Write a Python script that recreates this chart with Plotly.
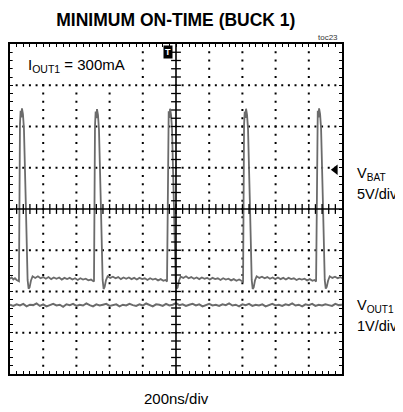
import plotly.graph_objects as go

# scope screen: 10 x 8 divisions, values in divisions
vbat_pts = [
    (0.00, -1.69), (0.05, -1.66), (0.10, -1.71), (0.15, -1.68), (0.20, -1.72), (0.24, -1.73),
    (0.27, -1.75), (0.30, 2.05), (0.32, 2.38), (0.34, 2.22), (0.36, 2.44), (0.39, 2.30),
    (0.42, 1.95), (0.48, 0.00), (0.53, -1.72), (0.56, -1.93), (0.59, -1.90), (0.63, -1.74),
    (0.68, -1.63), (0.76, -1.67), (0.84, -1.63), (0.92, -1.68), (1.00, -1.65), (1.08, -1.69),
    (1.16, -1.65), (1.24, -1.70), (1.32, -1.66), (1.40, -1.69), (1.48, -1.66), (1.56, -1.71),
    (1.64, -1.67), (1.72, -1.70), (1.80, -1.67), (1.88, -1.71), (1.96, -1.68), (2.04, -1.72),
    (2.12, -1.68), (2.20, -1.71), (2.28, -1.69), (2.36, -1.73), (2.44, -1.71), (2.49, -1.74),
    (2.53, -1.76), (2.56, 2.02), (2.58, 2.36), (2.60, 2.20), (2.62, 2.42), (2.65, 2.28),
    (2.68, 1.92), (2.74, 0.00), (2.79, -1.72), (2.82, -1.94), (2.85, -1.89), (2.89, -1.73),
    (2.94, -1.63), (3.02, -1.67), (3.10, -1.64), (3.18, -1.68), (3.26, -1.65), (3.34, -1.70),
    (3.42, -1.66), (3.50, -1.69), (3.58, -1.66), (3.66, -1.70), (3.74, -1.67), (3.82, -1.71),
    (3.90, -1.67), (3.98, -1.70), (4.06, -1.68), (4.14, -1.72), (4.22, -1.68), (4.30, -1.71),
    (4.38, -1.69), (4.46, -1.73), (4.54, -1.70), (4.62, -1.74), (4.68, -1.72),
    (4.73, -1.76), (4.76, 2.04), (4.78, 2.37), (4.80, 2.21), (4.82, 2.43), (4.85, 2.29),
    (4.88, 1.94), (4.94, 0.00), (4.99, -1.71), (5.02, -1.93), (5.05, -1.90), (5.09, -1.74),
    (5.14, -1.64), (5.22, -1.67), (5.30, -1.63), (5.38, -1.68), (5.46, -1.65), (5.54, -1.69),
    (5.62, -1.66), (5.70, -1.70), (5.78, -1.66), (5.86, -1.69), (5.94, -1.67), (6.02, -1.71),
    (6.10, -1.67), (6.18, -1.70), (6.26, -1.68), (6.34, -1.72), (6.42, -1.68), (6.50, -1.71),
    (6.58, -1.69), (6.66, -1.73), (6.74, -1.70), (6.82, -1.74), (6.90, -1.71), (6.97, -1.74),
    (7.02, -1.76), (7.05, 2.03), (7.07, 2.36), (7.09, 2.21), (7.11, 2.43), (7.14, 2.28),
    (7.17, 1.93), (7.23, 0.00), (7.28, -1.72), (7.31, -1.94), (7.34, -1.90), (7.38, -1.73),
    (7.43, -1.63), (7.51, -1.67), (7.59, -1.64), (7.67, -1.68), (7.75, -1.65), (7.83, -1.69),
    (7.91, -1.66), (7.99, -1.70), (8.07, -1.66), (8.15, -1.70), (8.23, -1.67), (8.31, -1.71),
    (8.39, -1.67), (8.47, -1.70), (8.55, -1.68), (8.63, -1.72), (8.71, -1.69), (8.79, -1.71),
    (8.87, -1.69), (8.95, -1.73), (9.03, -1.70), (9.11, -1.74), (9.17, -1.72),
    (9.22, -1.76), (9.25, 2.04), (9.27, 2.38), (9.29, 2.22), (9.31, 2.44), (9.34, 2.30),
    (9.37, 1.95), (9.43, 0.00), (9.48, -1.72), (9.51, -1.93), (9.54, -1.89), (9.58, -1.74),
    (9.63, -1.63), (9.71, -1.67), (9.79, -1.64), (9.87, -1.68), (9.95, -1.65), (10.00, -1.68),
]

# VOUT1, sampled every 0.1 div
vout_dt = 0.1
vout_v = [
    -2.32, -2.35, -2.31, -2.34, -2.30, -2.36, -2.32, -2.33, -2.29, -2.35,
    -2.31, -2.36, -2.33, -2.30, -2.34, -2.32, -2.37, -2.31, -2.33, -2.30,
    -2.35, -2.32, -2.34, -2.29, -2.33, -2.36, -2.31, -2.34, -2.32, -2.30,
    -2.35, -2.33, -2.31, -2.36, -2.32, -2.34, -2.30, -2.33, -2.35, -2.31,
    -2.34, -2.29, -2.33, -2.36, -2.31, -2.32, -2.35, -2.30, -2.34, -2.32,
    -2.28, -2.33, -2.31, -2.35, -2.32, -2.30, -2.34, -2.31, -2.36, -2.33,
    -2.30, -2.34, -2.32, -2.35, -2.31, -2.33, -2.29, -2.34, -2.32, -2.36,
    -2.31, -2.33, -2.30, -2.35, -2.32, -2.34, -2.31, -2.36, -2.33, -2.30,
    -2.34, -2.32, -2.35, -2.31, -2.33, -2.29, -2.34, -2.32, -2.36, -2.31,
    -2.33, -2.30, -2.35, -2.32, -2.34, -2.31, -2.33, -2.35, -2.30, -2.33, -2.32,
]
vout_t = [i * vout_dt for i in range(len(vout_v))]

vbat_gnd = 0.95      # channel ground marker (div)
trig_pos = 4.75      # trigger marker (div)

FONT = "Liberation Sans, Arial, sans-serif"
TRACE = "#6b6b6b"

fig = go.Figure()

# dotted graticule
gx, gy = [], []
for i in range(1, 10):
    if i == 5:
        continue
    for k in range(1, 40):
        gx.append(i); gy.append(-4 + 0.2 * k)
for j in range(-3, 4):
    if j == 0:
        continue
    for k in range(1, 50):
        gx.append(0.2 * k); gy.append(j)
fig.add_trace(go.Scatter(x=gx, y=gy, mode="markers", hoverinfo="skip",
                         marker=dict(symbol="square", size=2, color="black", line_width=0)))

fig.add_trace(go.Scatter(x=[p[0] for p in vbat_pts], y=[p[1] for p in vbat_pts],
                         mode="lines", line=dict(color=TRACE, width=1.8), hoverinfo="skip"))
fig.add_trace(go.Scatter(x=vout_t, y=vout_v, mode="lines",
                         line=dict(color=TRACE, width=2), hoverinfo="skip"))

# center cross ticks
cx = [0.2 * k for k in range(1, 50)]
fig.add_trace(go.Scatter(x=cx, y=[0] * len(cx), mode="markers", hoverinfo="skip",
                         marker=dict(symbol="line-ns", size=7, line=dict(color="black", width=1.3))))
cy = [-4 + 0.2 * k for k in range(1, 40)]
fig.add_trace(go.Scatter(x=[5] * len(cy), y=cy, mode="markers", hoverinfo="skip",
                         marker=dict(symbol="line-ew", size=7, line=dict(color="black", width=1.3))))

# ground arrow
fig.add_trace(go.Scatter(x=[9.8], y=[vbat_gnd], mode="markers", hoverinfo="skip",
                         marker=dict(symbol="triangle-left", size=9, color="black")))

fig.add_shape(type="line", x0=5, x1=5, y0=-4, y1=4, line=dict(color="black", width=1.6))
fig.add_shape(type="line", x0=0, x1=10, y0=0, y1=0, line=dict(color="black", width=1.6))
fig.add_shape(type="rect", x0=0.08, x1=3.8, y0=3.12, y1=3.93, layer="above",
              fillcolor="white", line_width=0)

ann = [
    dict(x=0.48, y=3.47, xref="x", yref="y", xanchor="left", yanchor="middle",
         text="I<sub>OUT1</sub> = 300mA", font=dict(size=15)),
    dict(x=trig_pos, y=3.8, xref="x", yref="y", text="<b>T</b>", bgcolor="black",
         font=dict(size=9, color="white"), borderpad=1),
    dict(x=0.994, y=1.021, xref="paper", yref="paper", xanchor="right", yanchor="middle",
         text="toc23", font=dict(size=8, color="#333")),
    dict(x=1.04, y=0.606, xref="paper", yref="paper", xanchor="left", yanchor="middle",
         text="V<sub>BAT</sub>", font=dict(size=14.5)),
    dict(x=1.04, y=0.545, xref="paper", yref="paper", xanchor="left", yanchor="middle",
         text="5V/div", font=dict(size=14.5)),
    dict(x=1.04, y=0.206, xref="paper", yref="paper", xanchor="left", yanchor="middle",
         text="V<sub>OUT1</sub>", font=dict(size=14.5)),
    dict(x=1.04, y=0.145, xref="paper", yref="paper", xanchor="left", yanchor="middle",
         text="1V/div", font=dict(size=14.5)),
    dict(x=0.5, y=-0.073, xref="paper", yref="paper", xanchor="center", yanchor="middle",
         text="200ns/div", font=dict(size=15)),
]
for a in ann:
    fig.add_annotation(showarrow=False, **a)

axis = dict(showgrid=False, zeroline=False, showticklabels=False, showline=True,
            linecolor="black", linewidth=2, mirror="ticks", ticks="inside",
            ticklen=3, tickwidth=1, tickcolor="black", tick0=0, dtick=0.2, fixedrange=True)

# page body adds an 8px offset, so the figure is 8px smaller on each axis
fig.update_layout(
    width=395, height=404,
    margin=dict(l=2, r=61, t=36, b=38),
    paper_bgcolor="white", plot_bgcolor="white",
    showlegend=False,
    font=dict(family=FONT, color="black"),
    title=dict(text="<b>MINIMUM ON-TIME (BUCK 1)</b>", x=0.425, xanchor="center",
               y=0.970, yanchor="middle", font=dict(size=17.5, family=FONT)),
    xaxis=dict(range=[0, 10], **axis),
    yaxis=dict(range=[-4, 4], **axis),
)

fig.write_html("out.html")
